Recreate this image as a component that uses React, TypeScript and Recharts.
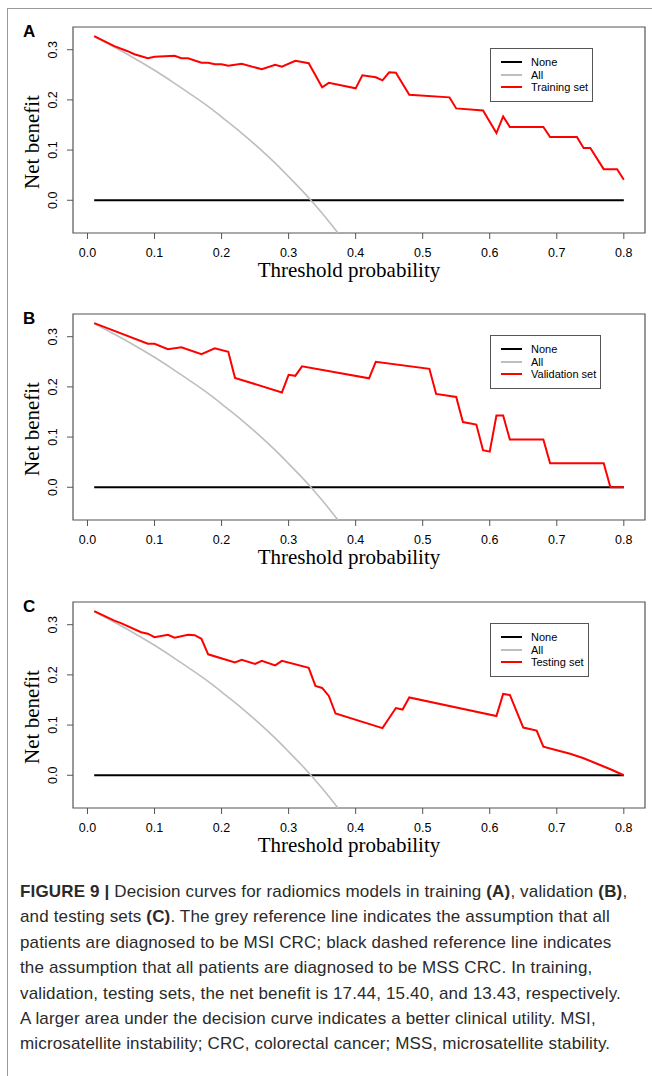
import React from 'react'
import { LineChart, Line, XAxis, YAxis, ReferenceArea, Legend, Label } from 'recharts'

// threshold probabilities (x) and net benefit (y)
const noneThresholds = [0.01, 0.8]
const noneBenefit = [0, 0]

const allThresholds = [0.01, 0.03, 0.05, 0.08, 0.1, 0.13, 0.15, 0.18, 0.2, 0.23, 0.25, 0.28, 0.3, 0.33, 0.35, 0.38]
const allBenefit = [0.326, 0.312, 0.298, 0.275, 0.259, 0.233, 0.215, 0.187, 0.166, 0.134, 0.111, 0.074, 0.047, 0.005, -0.026, -0.076]

const trainingThresholds = [
  0.01, 0.04, 0.06, 0.07, 0.09, 0.1, 0.13, 0.14, 0.15, 0.17, 0.18, 0.19, 0.2, 0.21, 0.23, 0.26, 0.28, 0.29,
  0.31, 0.33, 0.35, 0.36, 0.4, 0.41, 0.43, 0.44, 0.45, 0.46, 0.48, 0.54, 0.55, 0.59, 0.61, 0.62, 0.63, 0.68,
  0.69, 0.73, 0.74, 0.75, 0.77, 0.79, 0.8,
]
const trainingBenefit = [
  0.327, 0.307, 0.297, 0.291, 0.283, 0.286, 0.288, 0.283, 0.283, 0.274, 0.274, 0.271, 0.271, 0.268, 0.272,
  0.261, 0.27, 0.266, 0.278, 0.273, 0.225, 0.234, 0.223, 0.249, 0.245, 0.239, 0.255, 0.254, 0.21, 0.205, 0.183,
  0.179, 0.134, 0.167, 0.146, 0.146, 0.126, 0.126, 0.104, 0.104, 0.062, 0.062, 0.041,
]

const validationThresholds = [
  0.01, 0.09, 0.1, 0.12, 0.14, 0.17, 0.19, 0.21, 0.22, 0.29, 0.3, 0.31, 0.32, 0.42, 0.43, 0.51, 0.52, 0.55,
  0.56, 0.58, 0.59, 0.6, 0.61, 0.62, 0.63, 0.68, 0.69, 0.77, 0.78, 0.8,
]
const validationBenefit = [
  0.327, 0.286, 0.286, 0.275, 0.279, 0.265, 0.277, 0.27, 0.218, 0.189, 0.224, 0.222, 0.241, 0.217, 0.25, 0.236,
  0.186, 0.18, 0.13, 0.125, 0.074, 0.071, 0.143, 0.143, 0.095, 0.095, 0.048, 0.048, 0, 0,
]

const testingThresholds = [
  0.01, 0.04, 0.05, 0.08, 0.09, 0.1, 0.12, 0.13, 0.15, 0.16, 0.17, 0.18, 0.22, 0.23, 0.25, 0.26, 0.28, 0.29,
  0.33, 0.34, 0.35, 0.36, 0.37, 0.44, 0.46, 0.47, 0.48, 0.61, 0.62, 0.63, 0.65, 0.67, 0.68, 0.7, 0.72, 0.74,
  0.76, 0.78, 0.8,
]
const testingBenefit = [
  0.327, 0.308, 0.303, 0.285, 0.282, 0.275, 0.28, 0.274, 0.28, 0.279, 0.272, 0.241, 0.225, 0.23, 0.222, 0.228,
  0.219, 0.228, 0.214, 0.178, 0.174, 0.158, 0.123, 0.094, 0.134, 0.131, 0.155, 0.118, 0.162, 0.16, 0.095, 0.089,
  0.057, 0.05, 0.043, 0.034, 0.023, 0.012, 0,
]

const xTicks = [0, 0.1, 0.2, 0.3, 0.4, 0.5, 0.6, 0.7, 0.8]
const yTicks = [0, 0.1, 0.2, 0.3]

const X_DOMAIN: [number, number] = [-0.0216, 0.8316]
const Y_DOMAIN: [number, number] = [-0.0652, 0.3452]

const SANS = '"Liberation Sans", Arial, Helvetica, sans-serif'
const SERIF = '"Liberation Serif", "Times New Roman", serif'
const BOX = '#555'

const toPoints = (xs: number[], ys: number[]) => xs.map((t, i) => ({ t, nb: ys[i] }))

const renderYTick = (props: any) => {
  const { x, y, payload } = props
  const bx = x - 8
  return (
    <text x={bx} y={y} transform={`rotate(-90, ${bx}, ${y})`} textAnchor="middle" fontSize={12.5} fill="#000" fontFamily={SANS}>
      {payload.value.toFixed(1)}
    </text>
  )
}

const legendOrder = (name: string) => (name === 'None' ? 0 : name === 'All' ? 1 : 2)

const renderLegend = (props: any) => {
  const items = [...(props.payload || [])].sort((a: any, b: any) => legendOrder(a.value) - legendOrder(b.value))
  return (
    <div
      style={{
        border: `1px solid ${BOX}`,
        padding: '7px 4px 7px 10px',
        background: '#fff',
        fontFamily: SANS,
        fontSize: 11,
        lineHeight: '12.5px',
        whiteSpace: 'nowrap',
      }}
    >
      {items.map((it: any) => (
        <div key={it.value} style={{ display: 'flex', alignItems: 'center' }}>
          <span style={{ display: 'inline-block', width: 21, height: 2, background: it.color, marginRight: 9 }} />
          <span>{it.value}</span>
        </div>
      ))}
    </div>
  )
}

interface PanelProps {
  letter: string
  setName: string
  xs: number[]
  ys: number[]
  top: number
}

function Panel({ letter, setName, xs, ys, top }: PanelProps) {
  return (
    <div style={{ position: 'absolute', left: 0, top, width: 652, height: 290 }}>
      <div style={{ position: 'absolute', left: 23, top: 22, fontFamily: SANS, fontWeight: 'bold', fontSize: 17 }}>
        {letter}
      </div>
      <LineChart width={652} height={290} margin={{ top: 27, right: 7, bottom: 17, left: 33 }}>
        <XAxis
          type="number"
          dataKey="t"
          domain={X_DOMAIN}
          ticks={xTicks}
          allowDataOverflow
          height={40}
          tickSize={6}
          tickMargin={9}
          axisLine={false}
          tickLine={{ stroke: BOX }}
          tick={{ fontSize: 12.5, fill: '#000', fontFamily: SANS }}
          tickFormatter={(v: number) => v.toFixed(1)}
        >
          <Label
            content={({ viewBox }: any) => (
              <text
                x={viewBox.x + viewBox.width / 2 - 10}
                y={viewBox.y + 44}
                textAnchor="middle"
                fontFamily={SERIF}
                fontSize={21}
                fill="#000"
              >
                Threshold probability
              </text>
            )}
          />
        </XAxis>
        <YAxis
          type="number"
          dataKey="nb"
          domain={Y_DOMAIN}
          ticks={yTicks}
          allowDataOverflow
          width={40}
          tickSize={6}
          tickMargin={2}
          axisLine={false}
          tickLine={{ stroke: BOX }}
          tick={renderYTick}
        >
          <Label
            content={({ viewBox }: any) => {
              const bx = viewBox.x + 6
              const cy = viewBox.y + viewBox.height / 2 + 12
              return (
                <text
                  x={bx}
                  y={cy}
                  transform={`rotate(-90, ${bx}, ${cy})`}
                  textAnchor="middle"
                  fontFamily={SERIF}
                  fontSize={21}
                  fill="#000"
                >
                  Net benefit
                </text>
              )
            }}
          />
        </YAxis>
        <ReferenceArea x1={X_DOMAIN[0]} x2={X_DOMAIN[1]} y1={Y_DOMAIN[0]} y2={Y_DOMAIN[1]} fill="none" stroke={BOX} strokeWidth={1.2} />
        <Line
          data={toPoints(noneThresholds, noneBenefit)}
          dataKey="nb"
          name="None"
          stroke="#000"
          strokeWidth={2}
          dot={false}
          isAnimationActive={false}
        />
        <Line
          data={toPoints(allThresholds, allBenefit)}
          dataKey="nb"
          name="All"
          type="monotone"
          stroke="#bebebe"
          strokeWidth={1.6}
          dot={false}
          isAnimationActive={false}
        />
        <Line
          data={toPoints(xs, ys)}
          dataKey="nb"
          name={setName}
          stroke="#ff0000"
          strokeWidth={2}
          dot={false}
          isAnimationActive={false}
        />
        <Legend
          layout="vertical"
          align="center"
          verticalAlign="middle"
          content={renderLegend}
          wrapperStyle={{ left: 490, top: 48, width: 'auto', height: 'auto' }}
        />
      </LineChart>
    </div>
  )
}

const captionLines: React.ReactNode[] = [
  <>
    <b>FIGURE 9 |</b> Decision curves for radiomics models in training <b>(A)</b>, validation <b>(B)</b>,
  </>,
  <>
    and testing sets <b>(C)</b>. The grey reference line indicates the assumption that all
  </>,
  <>patients are diagnosed to be MSI CRC; black dashed reference line indicates</>,
  <>the assumption that all patients are diagnosed to be MSS CRC. In training,</>,
  <>validation, testing sets, the net benefit is 17.44, 15.40, and 13.43, respectively.</>,
  <>A larger area under the decision curve indicates a better clinical utility. MSI,</>,
  <>microsatellite instability; CRC, colorectal cancer; MSS, microsatellite stability.</>,
]

export default function App() {
  return (
    <div style={{ position: 'absolute', left: 0, top: 0, width: 652, height: 1076, background: '#fff', overflow: 'hidden' }}>
      <div
        style={{
          position: 'absolute',
          left: 7,
          top: 8,
          width: 660,
          height: 1100,
          borderTop: '1.5px solid #999',
          borderLeft: '1.5px solid #999',
        }}
      />
      <Panel letter="A" setName="Training set" xs={trainingThresholds} ys={trainingBenefit} top={0} />
      <Panel letter="B" setName="Validation set" xs={validationThresholds} ys={validationBenefit} top={287} />
      <Panel letter="C" setName="Testing set" xs={testingThresholds} ys={testingBenefit} top={575} />
      <div
        style={{
          position: 'absolute',
          left: 20,
          top: 879,
          fontFamily: SANS,
          fontSize: 17,
          letterSpacing: 0.15,
          lineHeight: '25.4px',
          color: '#2a2a2a',
          whiteSpace: 'nowrap',
        }}
      >
        {captionLines.map((l, i) => (
          <div key={i}>{l}</div>
        ))}
      </div>
    </div>
  )
}
